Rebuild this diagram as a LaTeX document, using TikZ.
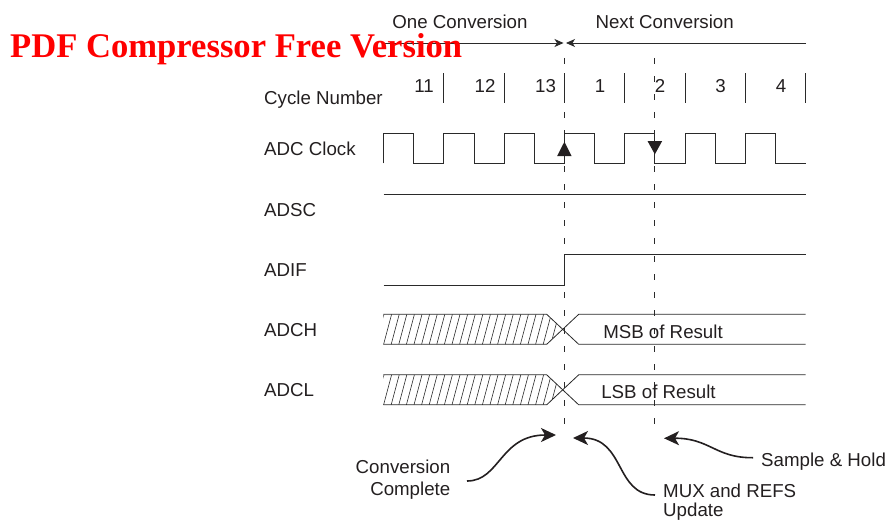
\documentclass[tikz,border=0pt]{standalone}
\usepackage{fontspec}
\setmainfont{Liberation Sans}
\newfontfamily\wmfont{Liberation Serif}
\usetikzlibrary{arrows.meta}
\definecolor{txt}{HTML}{231F20}
\definecolor{ln}{HTML}{2A2A2A}
\begin{document}
\begin{tikzpicture}[x=1pt,y=-1pt,
  lbl/.style={font=\fontsize{18.7}{22}\selectfont, text=txt, inner sep=0pt},
  sig/.style={line width=0.8pt, draw=ln, line join=miter},
  tickln/.style={line width=0.8pt, draw=ln},
  dashln/.style={line width=0.9pt, draw=ln, dash pattern=on 6pt off 12pt},
  hatchln/.style={line width=0.6pt, draw=ln},
  spanarrow/.style={line width=0.8pt, draw=ln, -{Stealth[length=9pt,width=8pt,inset=2.5pt]}},
  callout/.style={line width=1.6pt, draw=txt, -{Stealth[length=15pt,width=14pt,inset=4pt]}},
  edgetri/.style={fill=txt, draw=none}]
\useasboundingbox (0,0) rectangle (888,519);

% ---- span arrows at top
\node[lbl, anchor=base] (onec) at (460,29) {One Conversion};
\node[lbl, anchor=base] (nextc) at (664.7,29) {Next Conversion};
\coordinate (spanL) at (383,43);
\coordinate (spanR) at (806,43);
\coordinate (tipL) at (563.5,43);
\coordinate (tipR) at (566,43);
\draw[spanarrow] (spanL) -- (tipL);
\draw[spanarrow] (spanR) -- (tipR);

% ---- signal labels
\node[lbl, anchor=base west] (lcyc) at (264,104) {Cycle Number};
\node[lbl, anchor=base west] (lclk) at (264,155) {ADC Clock};
\node[lbl, anchor=base west] (ladsc) at (264,216.6) {ADSC};
\node[lbl, anchor=base west] (ladif) at (264,276.6) {ADIF};
\node[lbl, anchor=base west] (ladch) at (264,336) {ADCH};
\node[lbl, anchor=base west] (ladcl) at (264,396) {ADCL};

% ---- cycle numbers and ticks
\foreach \xx/\nn in {424/11, 485/12, 545.5/13, 600/1, 660/2, 720.5/3, 781/4}
  \node[lbl, anchor=base] (cyc\nn) at (\xx,92.7) {\nn};
\foreach \xx in {443.8,504.1,564.4,624.7,685,745.3,805.6}
  \draw[tickln] (\xx,73) -- (\xx,103);

% ---- dashed markers
\draw[dashln] (564.4,58) -- (564.4,428);
\draw[dashln] (654.85,58) -- (654.85,428);

% ---- ADC clock
\draw[sig] (383.5,163.3) -- (383.5,133.3) -- (413.65,133.3) -- (413.65,163.3)
  -- (443.8,163.3) -- (443.8,133.3) -- (473.95,133.3) -- (473.95,163.3)
  -- (504.1,163.3) -- (504.1,133.3) -- (534.25,133.3) -- (534.25,163.3)
  -- (564.4,163.3) -- (564.4,133.3) -- (594.55,133.3) -- (594.55,163.3)
  -- (624.7,163.3) -- (624.7,133.3) -- (654.85,133.3) -- (654.85,163.3)
  -- (685,163.3) -- (685,133.3) -- (715.15,133.3) -- (715.15,163.3)
  -- (745.3,163.3) -- (745.3,133.3) -- (775.45,133.3) -- (775.45,163.3)
  -- (805.6,163.3);
\fill[edgetri] (564.4,141.7) -- (571.6,156) -- (557.2,156) -- cycle;
\fill[edgetri] (654.85,154.3) -- (662.2,141) -- (647.5,141) -- cycle;

% ---- ADSC
\draw[sig] (383.5,194) -- (805.6,194);

% ---- ADIF
\draw[sig] (383.5,285) -- (564.4,285) -- (564.4,254.3) -- (805.6,254.3);

% ---- ADCH / ADCL buses
\foreach \yt/\nm in {314.3/ch, 374.8/cl}{
  \begin{scope}
    \clip (383.3,\yt) -- (546.7,\yt) -- (562.7,\yt+15) -- (546.7,\yt+30) -- (383.3,\yt+30) -- cycle;
    \foreach \i in {0,...,25}
      \draw[hatchln] ({376+\i*7.6},\yt+30) -- ({384+\i*7.6},\yt);
  \end{scope}
  \draw[sig] (383.3,\yt) -- (546.7,\yt) -- (578.7,\yt+30) -- (805.6,\yt+30);
  \draw[sig] (383.3,\yt+30) -- (546.7,\yt+30) -- (578.7,\yt) -- (805.6,\yt);
}
\node[lbl, anchor=base] (msb) at (663,338) {MSB of Result};
\node[lbl, anchor=base] (lsb) at (658.5,398) {LSB of Result};

% ---- callouts
\node[lbl, anchor=base east, align=right] (cc) at (450.5,495.6) {Conversion\\Complete};
\node[lbl, anchor=base west, align=left, font=\fontsize{18.7}{19.5}\selectfont] (mux) at (663,516.5) {MUX and REFS\\Update};
\node[lbl, anchor=base west] (sh) at (761,466) {Sample \& Hold};
\coordinate (ccS) at (467,481);
\coordinate (ccT) at (556,435);
\coordinate (muxS) at (655,495);
\coordinate (muxT) at (573,438);
\coordinate (shS) at (753,457.7);
\coordinate (shT) at (664,438.3);
\draw[callout] (ccS) .. controls (500,481) and (500,435) .. (ccT);
\draw[callout] (muxS) .. controls (615,495) and (625,438) .. (muxT);
\draw[callout] (shS) .. controls (715,458) and (710,438) .. (shT);

% ---- watermark
\node[font=\wmfont\bfseries\fontsize{34.6}{37}\selectfont, text=red, anchor=base west, inner sep=0pt] (wm) at (10,57) {PDF Compressor Free Version};
\end{tikzpicture}
\end{document}
